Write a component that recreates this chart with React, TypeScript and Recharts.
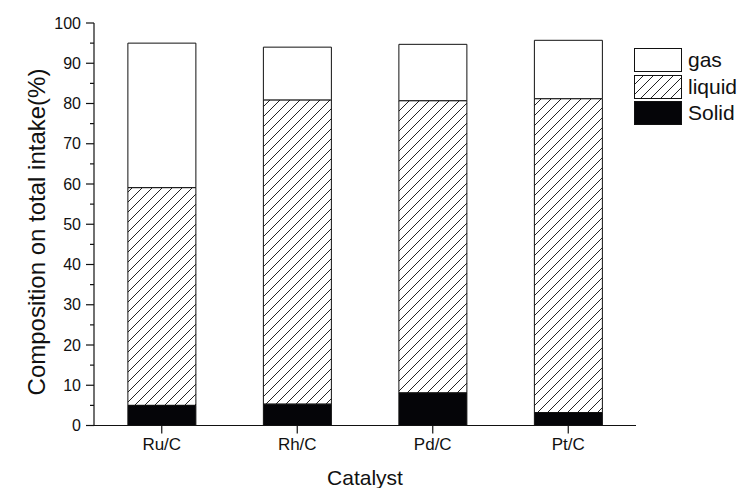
import { BarChart, Bar, XAxis, YAxis } from 'recharts'

const categories = ['Ru/C', 'Rh/C', 'Pd/C', 'Pt/C']
const solid = [5.0, 5.3, 8.1, 3.2]
const liquid = [54.1, 75.6, 72.6, 78.0]
const gas = [35.9, 13.1, 14.0, 14.5]
const yTicks = [0, 5, 10, 15, 20, 25, 30, 35, 40, 45, 50, 55, 60, 65, 70, 75, 80, 85, 90, 95, 100]

const FONT = '"Liberation Sans", Arial, sans-serif'
const INK = '#111'

const data = categories.map((c, i) => ({
  name: c,
  Solid: solid[i],
  liquid: liquid[i],
  gas: gas[i],
}))

// y ticks: major every 10 with label, minor every 5 without
function YTick(props: any) {
  const { x, y, payload } = props
  const major = payload.value % 10 === 0
  return (
    <g>
      <line x1={x} x2={x - (major ? 8 : 4)} y1={y} y2={y} stroke={INK} strokeWidth={1.2} />
      {major && (
        <text x={x - 13} y={y} dy={5.5} textAnchor="end" fontSize={16} fontFamily={FONT} fill={INK}>
          {payload.value}
        </text>
      )}
    </g>
  )
}

function YLabel() {
  return (
    <text
      x={37}
      y={232}
      transform="rotate(-90 37 232)"
      textAnchor="middle"
      dy={8}
      fontSize={24}
      fontFamily={FONT}
      fill={INK}
    >
      Composition on total intake(%)
    </text>
  )
}

function Swatch({ fill }: { fill: string }) {
  return (
    <svg width={48} height={24} style={{ display: 'block' }}>
      <defs>
        <pattern id="lghatch" width="10" height="10" patternUnits="userSpaceOnUse">
          <path d="M-1,1 L1,-1 M0,10 L10,0 M9,11 L11,9" stroke="#222" strokeWidth={1} />
        </pattern>
      </defs>
      <rect x={0.5} y={0.5} width={47} height={23} fill={fill === 'hatch' ? 'url(#lghatch)' : fill} stroke={INK} strokeWidth={1} />
    </svg>
  )
}

function LegendBox() {
  const items = [
    { label: 'gas', fill: '#fff' },
    { label: 'liquid', fill: 'hatch' },
    { label: 'Solid', fill: '#050508' },
  ]
  return (
    <div style={{ position: 'absolute', left: 634, top: 48, fontFamily: FONT, fontSize: 21, color: INK }}>
      {items.map(it => (
        <div key={it.label} style={{ display: 'flex', alignItems: 'center', height: 24, marginBottom: 2.5 }}>
          <Swatch fill={it.fill} />
          <span style={{ marginLeft: 6, lineHeight: '24px' }}>{it.label}</span>
        </div>
      ))}
    </div>
  )
}

export default function App() {
  return (
    <div style={{ position: 'absolute', left: 0, top: 0, width: 741, height: 488, background: '#fff' }}>
      <BarChart
        width={741}
        height={488}
        data={data}
        margin={{ top: 23, right: 105, bottom: 0, left: 0 }}
        barCategoryGap="25%"
      >
        <defs>
          <pattern id="hatch" width="10" height="10" patternUnits="userSpaceOnUse">
            <path d="M-1,1 L1,-1 M0,10 L10,0 M9,11 L11,9" stroke="#222" strokeWidth={1} />
          </pattern>
        </defs>
        <XAxis
          dataKey="name"
          height={62.5}
          axisLine={{ stroke: INK, strokeWidth: 1.2 }}
          tickLine={{ stroke: INK, strokeWidth: 1.2 }}
          tickSize={8}
          tickMargin={4}
          tick={{ fontSize: 17, fontFamily: FONT, fill: INK }}
          label={{ value: 'Catalyst', position: 'insideBottom', offset: 3, fontSize: 21, fontFamily: FONT, fill: INK }}
        />
        <YAxis
          width={94}
          domain={[0, 100]}
          ticks={yTicks}
          interval={0}
          tickSize={0}
          tickMargin={0}
          axisLine={{ stroke: INK, strokeWidth: 1.2 }}
          tickLine={false}
          tick={<YTick />}
          label={<YLabel />}
        />
        <Bar dataKey="Solid" stackId="a" fill="#050508" stroke={INK} strokeWidth={1} isAnimationActive={false} />
        <Bar dataKey="liquid" stackId="a" fill="url(#hatch)" stroke={INK} strokeWidth={1} isAnimationActive={false} />
        <Bar dataKey="gas" stackId="a" fill="#fff" stroke={INK} strokeWidth={1} isAnimationActive={false} />
      </BarChart>
      <LegendBox />
    </div>
  )
}
